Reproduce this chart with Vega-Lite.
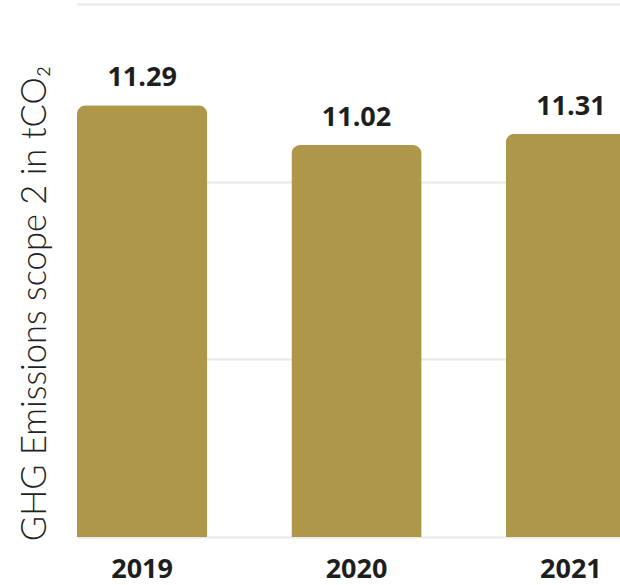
{
  "$schema": "https://vega.github.io/schema/vega-lite/v6.json",
  "autosize": "none",
  "width": 543,
  "height": 533,
  "padding": {"left": 77, "top": 4, "right": 0, "bottom": 48},
  "background": "white",
  "config": {"view": {"stroke": null}},
  "data": {
    "values": [
      {"year": "2019", "value": 12.15, "label": "11.29"},
      {"year": "2020", "value": 11.03, "label": "11.02"},
      {"year": "2021", "value": 11.35, "label": "11.31"}
    ]
  },
  "encoding": {
    "x": {
      "field": "year",
      "type": "nominal",
      "sort": null,
      "scale": {"range": [0, 559], "paddingInner": 0.3925, "paddingOuter": 0},
      "axis": {
        "title": null,
        "labelAngle": 0,
        "domain": false,
        "ticks": false,
        "labelPadding": 19,
        "labelFont": "Open Sans",
        "labelFontWeight": "bold",
        "labelFontSize": 27,
        "labelColor": "#1e1e1e"
      }
    },
    "y": {
      "field": "value",
      "type": "quantitative",
      "scale": {"domain": [0, 15], "nice": false},
      "axis": {
        "values": [0, 5, 10, 15],
        "labels": false,
        "ticks": false,
        "domain": false,
        "grid": true,
        "gridColor": "#e8e8e8",
        "gridWidth": 2,
        "title": "GHG Emissions scope 2 in tCO₂",
        "titleFont": "Lato",
        "titleFontWeight": 300,
        "titleFontSize": 34.5,
        "titleColor": "#222222",
        "titleX": -32,
        "titleY": 299,
        "titleAlign": "center",
        "titleBaseline": "alphabetic",
        "titleAngle": -90
      }
    }
  },
  "layer": [
    {
      "mark": {"type": "bar", "color": "#ae9749", "cornerRadiusTopLeft": 9, "cornerRadiusTopRight": 9}
    },
    {
      "mark": {"type": "text", "baseline": "alphabetic", "dy": -19, "font": "Open Sans", "fontWeight": "bold", "fontSize": 27, "color": "#1e1e1e"},
      "encoding": {"text": {"field": "label"}}
    }
  ]
}
